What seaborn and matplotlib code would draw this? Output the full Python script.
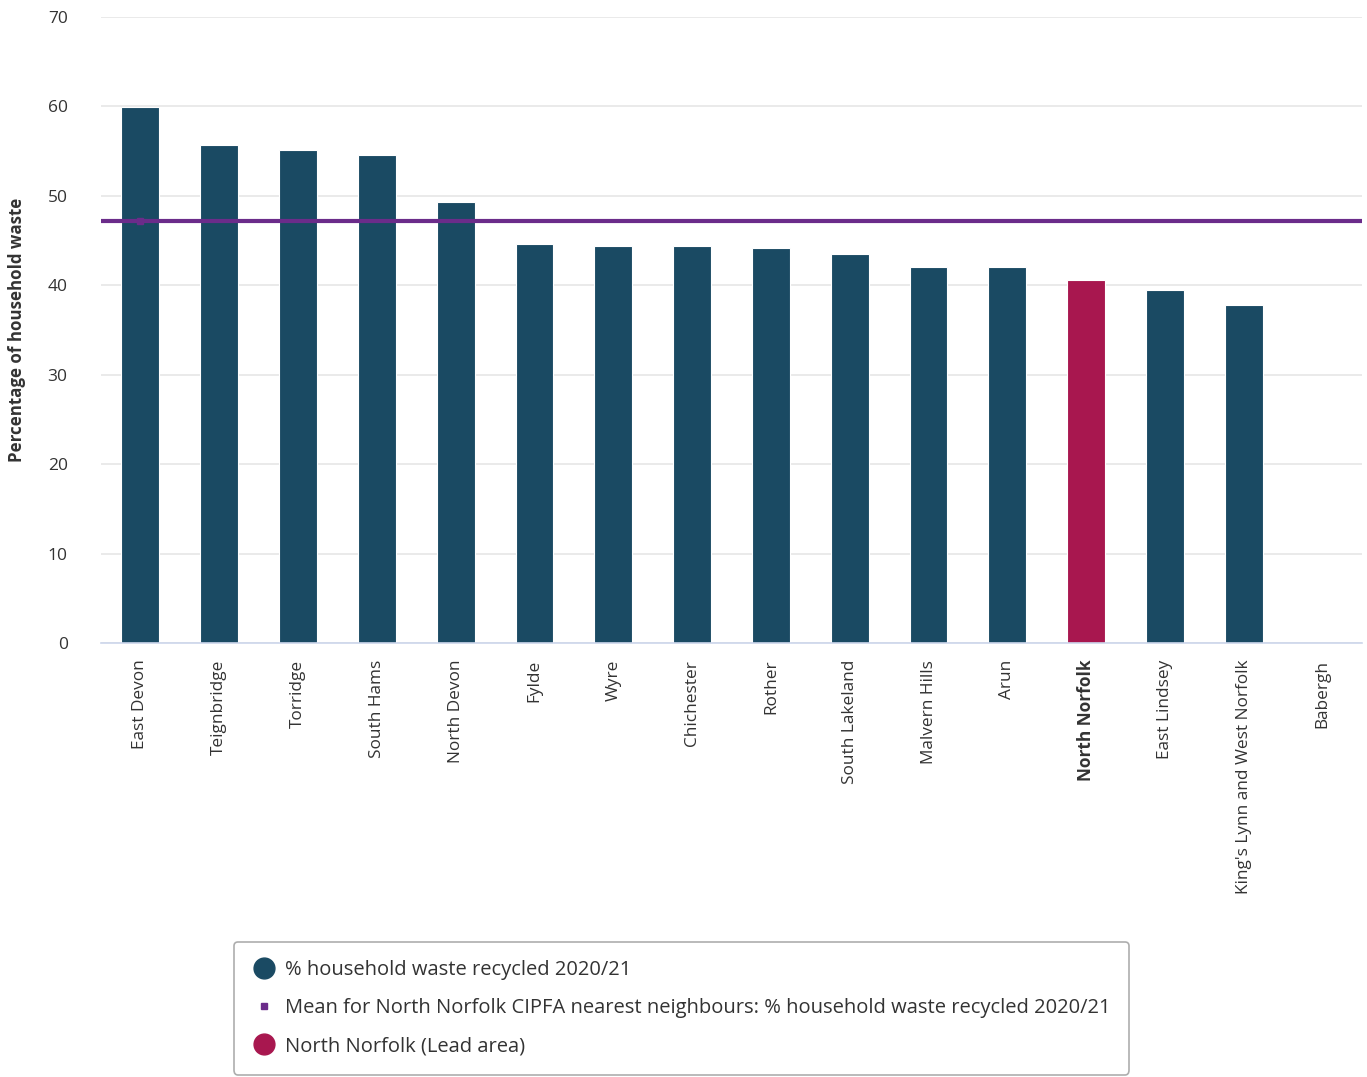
import matplotlib
matplotlib.use("Agg")
import matplotlib.pyplot as plt
from matplotlib.lines import Line2D
import seaborn as sns
import pandas as pd

# data
areas = ["East Devon", "Teignbridge", "Torridge", "South Hams", "North Devon",
         "Fylde", "Wyre", "Chichester", "Rother", "South Lakeland",
         "Malvern Hills", "Arun", "North Norfolk", "East Lindsey",
         "King's Lynn and West Norfolk", "Babergh"]
recycled = [59.9, 55.7, 55.1, 54.6, 49.3, 44.6, 44.4, 44.4, 44.2, 43.5,
            42.1, 42.1, 40.6, 39.5, 37.8, None]
mean_value = 47.2
lead_area = "North Norfolk"

BLUE = "#1a4a63"
PINK = "#a8174f"
PURPLE = "#6b2c8a"

sns.set_theme(style="white")
plt.rcParams["font.family"] = ["Open Sans", "DejaVu Sans"]

df = pd.DataFrame({"area": areas, "value": recycled})
df["group"] = ["lead" if a == lead_area else "other" for a in areas]

fig = plt.figure(figsize=(13.67, 10.77), dpi=100)
ax = fig.add_axes([101 / 1367, 1 - 643 / 1077, 1261 / 1367, 626 / 1077])

sns.barplot(data=df, x="area", y="value", hue="group",
            palette={"other": BLUE, "lead": PINK}, dodge=False, saturation=1,
            width=0.48, edgecolor="white", linewidth=0.8, legend=False,
            ax=ax, zorder=2)

ax.axhline(mean_value, color=PURPLE, lw=3, zorder=3)
ax.plot([0], [mean_value], marker="s", ms=5, color=PURPLE, zorder=4)

ax.set_xlim(-0.5, len(areas) - 0.5)
ax.set_ylim(0, 70)
ax.set_yticks(range(0, 71, 10))
ax.yaxis.grid(True, color="#e6e6e6", lw=1.2, zorder=0)
ax.set_axisbelow(True)
for s in ["top", "right", "left"]:
    ax.spines[s].set_visible(False)
ax.spines["bottom"].set_color("#ccd6eb")
ax.spines["bottom"].set_linewidth(1.2)

ax.tick_params(axis="y", length=0, pad=24, labelsize=12.5, labelcolor="#333333")
ax.tick_params(axis="x", length=0, pad=12, labelsize=12.4, labelcolor="#333333")
ax.set_xticks(range(len(areas)))
ax.set_xticklabels(areas, rotation=90, va="top", ha="center")
for lab in ax.get_xticklabels():
    if lab.get_text() == lead_area:
        lab.set_fontweight("bold")

ax.set_xlabel("")
ax.set_ylabel("Percentage of household waste", fontsize=12.2, fontweight="bold",
              color="#333333", va="center")
ax.yaxis.set_label_coords(-84 / 1261, 0.5)

handles = [
    Line2D([], [], marker="o", ls="", ms=15, color=BLUE,
           label="% household waste recycled 2020/21"),
    Line2D([], [], marker="s", ls="", ms=5, color=PURPLE,
           label="Mean for North Norfolk CIPFA nearest neighbours: % household waste recycled 2020/21"),
    Line2D([], [], marker="o", ls="", ms=15, color=PINK,
           label="North Norfolk (Lead area)"),
]
leg = fig.legend(handles=handles, loc="upper left",
                 bbox_to_anchor=(234 / 1367, 1 - 942 / 1077),
                 borderaxespad=0, frameon=True, fontsize=14.5,
                 labelcolor="#333333", handletextpad=0.45, labelspacing=0.9,
                 borderpad=0.9, fancybox=True, handlelength=1.2)
leg.get_frame().set_edgecolor("#999999")
leg.get_frame().set_linewidth(1.2)

fig.savefig("out.png", dpi=100, facecolor="white")
